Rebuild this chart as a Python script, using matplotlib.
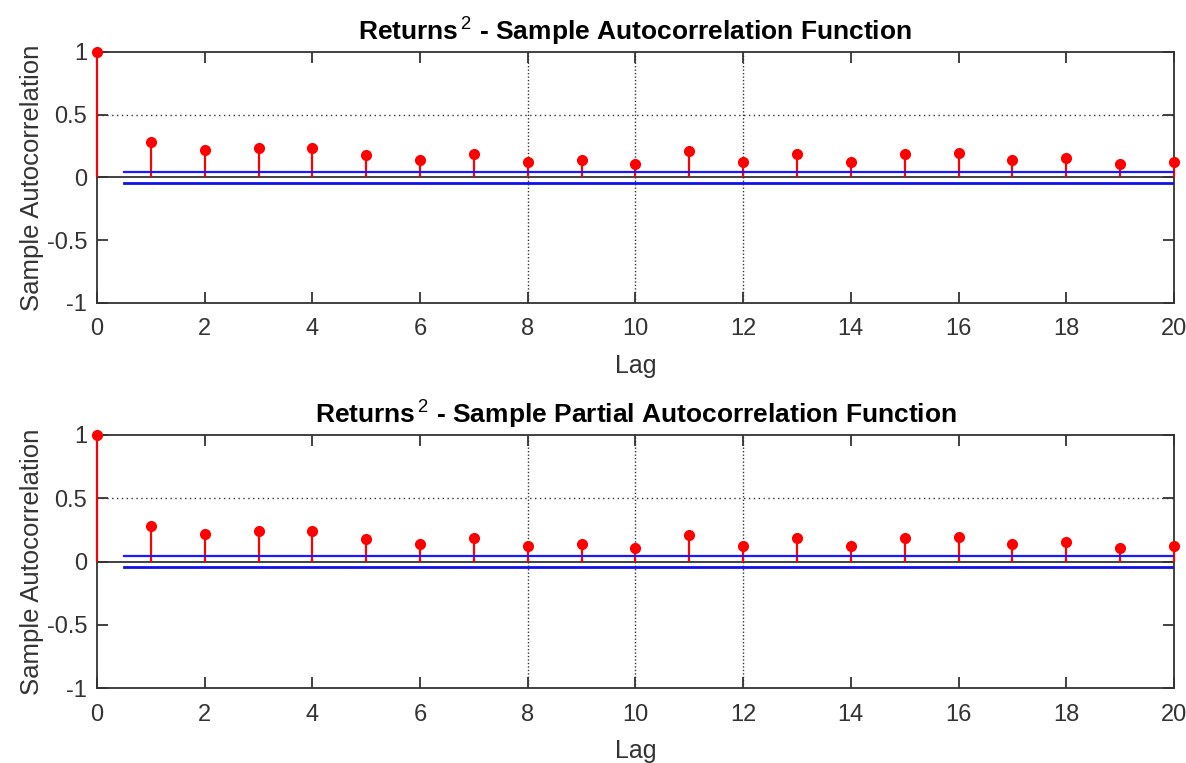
import numpy as np
import matplotlib
matplotlib.use('Agg')
import matplotlib.pyplot as plt

plt.rcParams['font.family'] = ['Liberation Sans', 'DejaVu Sans']
plt.rcParams['mathtext.fontset'] = 'custom'
plt.rcParams['mathtext.rm'] = 'Liberation Sans'
plt.rcParams['mathtext.bf'] = 'Liberation Sans:bold'

# Values
lags = np.arange(0, 21)
acf = [1.0, 0.28, 0.22, 0.238, 0.238, 0.18, 0.139, 0.183, 0.12, 0.141, 0.11,
       0.207, 0.123, 0.183, 0.12, 0.183, 0.196, 0.139, 0.154, 0.11, 0.123]
pacf = [1.0, 0.28, 0.22, 0.238, 0.238, 0.18, 0.139, 0.183, 0.12, 0.141, 0.11,
        0.207, 0.123, 0.183, 0.12, 0.183, 0.196, 0.139, 0.154, 0.11, 0.123]
bound = 0.042
marked_lags = [8, 10, 12]
titles = [r'Returns$^{\,2}$ - Sample Autocorrelation Function',
          r'Returns$^{\,2}$ - Sample Partial Autocorrelation Function']

fig = plt.figure(figsize=(11.86, 7.63), dpi=100)
ax1 = fig.add_axes([0.0818, 0.603, 0.908, 0.329])
ax2 = fig.add_axes([0.0818, 0.098, 0.908, 0.332])

for ax, vals, title in zip([ax1, ax2], [acf, pacf], titles):
    ax.axhline(0.5, color='#333333', ls=(0, (1, 2.5)), lw=1, zorder=1)
    for m in marked_lags:
        ax.axvline(m, color='#333333', ls=(0, (1, 1.5)), lw=1, zorder=1)
    ax.axhline(0, color='#333333', lw=1.3, zorder=2)
    ml, sl, bl = ax.stem(lags, vals, linefmt='r-', markerfmt='ro', basefmt=' ')
    plt.setp(sl, lw=1.6, zorder=3, clip_on=False)
    plt.setp(ml, markersize=7, clip_on=False, zorder=4)
    ax.plot([0.5, 20], [bound, bound], color='#1a1aff', lw=1.6, zorder=3)
    ax.plot([0.5, 20], [-bound, -bound], color='#1010ee', lw=2, zorder=3)
    ax.set_xlim(0, 20)
    ax.set_ylim(-1, 1)
    ax.set_xticks(np.arange(0, 21, 2))
    ax.set_yticks([-1, -0.5, 0, 0.5, 1])
    ax.set_yticklabels(['-1', '-0.5', '0', '0.5', '1'])
    ax.tick_params(direction='in', top=True, right=True, length=8, width=1.3,
                   labelsize=17, labelcolor='#333333', color='#333333')
    ax.tick_params(axis='x', pad=11)
    ax.tick_params(axis='y', pad=7)
    for s in ax.spines.values():
        s.set_color('#333333')
        s.set_linewidth(1.3)
    ax.set_title(title, fontsize=19, fontweight='bold', pad=9)
    ax.set_xlabel('Lag', fontsize=18, color='#333333', labelpad=10)
    ax.set_ylabel('Sample Autocorrelation', fontsize=18.5, color='#333333', labelpad=2)

fig.savefig('out.png', dpi=100)
